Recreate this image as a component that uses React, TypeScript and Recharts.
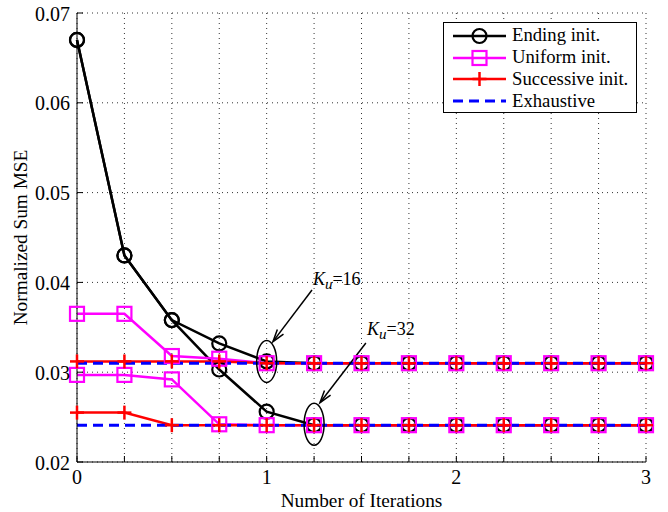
import React from 'react';
import {
  LineChart,
  Line,
  XAxis,
  YAxis,
  CartesianGrid,
  Legend,
  ReferenceDot,
  ReferenceLine,
} from 'recharts';

const FONT = '"Liberation Serif", "Times New Roman", serif';

// x: iteration count, y: normalized sum MSE (upper group Ku=16, lower group Ku=32)
const iterations = [0, 0.25, 0.5, 0.75, 1, 1.25, 1.5, 1.75, 2, 2.25, 2.5, 2.75, 3];
const endingKu16 = [0.067, 0.0430, 0.0358, 0.0332, 0.0312, 0.031, 0.031, 0.031, 0.031, 0.031, 0.031, 0.031, 0.031];
const endingKu32 = [0.067, 0.0430, 0.0358, 0.0303, 0.0256, 0.0241, 0.0241, 0.0241, 0.0241, 0.0241, 0.0241, 0.0241, 0.0241];
const uniformKu16 = [0.0365, 0.0365, 0.0318, 0.0315, 0.031, 0.031, 0.031, 0.031, 0.031, 0.031, 0.031, 0.031, 0.031];
const uniformKu32 = [0.0297, 0.0297, 0.0292, 0.0242, 0.0241, 0.0241, 0.0241, 0.0241, 0.0241, 0.0241, 0.0241, 0.0241, 0.0241];
const successiveKu16 = [0.0312, 0.0312, 0.0312, 0.0312, 0.031, 0.031, 0.031, 0.031, 0.031, 0.031, 0.031, 0.031, 0.031];
const successiveKu32 = [0.0255, 0.0255, 0.0241, 0.0241, 0.0241, 0.0241, 0.0241, 0.0241, 0.0241, 0.0241, 0.0241, 0.0241, 0.0241];
const exhaustiveKu16 = [0.031, 0.031, 0.031, 0.031, 0.031, 0.031, 0.031, 0.031, 0.031, 0.031, 0.031, 0.031, 0.031];
const exhaustiveKu32 = [0.0241, 0.0241, 0.0241, 0.0241, 0.0241, 0.0241, 0.0241, 0.0241, 0.0241, 0.0241, 0.0241, 0.0241, 0.0241];

const xTicks = [0, 0.25, 0.5, 0.75, 1, 1.25, 1.5, 1.75, 2, 2.25, 2.5, 2.75, 3];
const yTicks = [0.02, 0.03, 0.04, 0.05, 0.06, 0.07];

const legendItems = [
  { name: 'Ending init.', color: '#000000', marker: 'circle' },
  { name: 'Uniform init.', color: '#ff00ff', marker: 'square' },
  { name: 'Successive init.', color: '#ff0000', marker: 'plus' },
  { name: 'Exhaustive', color: '#0000ff', marker: 'dash' },
];

// annotation positions in data units
const ellipses = [
  { x: 1, y: 0.0312 },
  { x: 1.25, y: 0.0242 },
];
const arrows = [
  { from: { x: 1.239, y: 0.03915 }, to: { x: 1.033, y: 0.0334 } },
  { from: { x: 1.523, y: 0.03325 }, to: { x: 1.281, y: 0.0266 } },
];
const notes = [
  { x: 1.244, y: 0.0397, text: '=16' },
  { x: 1.529, y: 0.0341, text: '=32' },
];

const data = iterations.map((x, i) => ({
  x,
  endingKu16: endingKu16[i],
  endingKu32: endingKu32[i],
  uniformKu16: uniformKu16[i],
  uniformKu32: uniformKu32[i],
  successiveKu16: successiveKu16[i],
  successiveKu32: successiveKu32[i],
  exhaustiveKu16: exhaustiveKu16[i],
  exhaustiveKu32: exhaustiveKu32[i],
}));

const Marker = ({ kind, cx, cy, color }: any) => {
  if (kind === 'circle')
    return <circle cx={cx} cy={cy} r={7} fill="none" stroke={color} strokeWidth={2.2} />;
  if (kind === 'square')
    return <rect x={cx - 7} y={cy - 7} width={14} height={14} fill="none" stroke={color} strokeWidth={2.2} />;
  if (kind === 'plus')
    return (
      <g stroke={color} strokeWidth={2.5}>
        <line x1={cx - 7} x2={cx + 7} y1={cy} y2={cy} />
        <line x1={cx} x2={cx} y1={cy - 7} y2={cy + 7} />
      </g>
    );
  return null;
};

const dotFor = (kind: string, color: string) => (p: any) =>
  <Marker key={`${kind}-${p.index}`} kind={kind} cx={p.cx} cy={p.cy} color={color} />;

const BottomTick = ({ x, y, payload }: any) => (
  <g>
    <line x1={x} x2={x} y1={y} y2={y - 6} stroke="#000" />
    {Number.isInteger(payload.value) && (
      <text x={x} y={y + 21.5} textAnchor="middle" fontFamily={FONT} fontSize={20} fill="#000">
        {payload.value}
      </text>
    )}
  </g>
);
const TopTick = ({ x, y }: any) => <line x1={x} x2={x} y1={y} y2={y + 6} stroke="#000" />;
const LeftTick = ({ x, y, payload }: any) => (
  <g>
    <line x1={x} x2={x + 6} y1={y} y2={y} stroke="#000" />
    <text x={x - 7} y={y} dy={7.5} textAnchor="end" fontFamily={FONT} fontSize={20} fill="#000">
      {payload.value.toFixed(2)}
    </text>
  </g>
);
const RightTick = ({ x, y }: any) => <line x1={x} x2={x - 6} y1={y} y2={y} stroke="#000" />;

const Arrow = (p: any) => {
  const { x1, y1, x2, y2 } = p;
  const a = Math.atan2(y2 - y1, x2 - x1);
  const h = 13;
  const s = 0.3;
  const pts = `${x2 - h * Math.cos(a - s)},${y2 - h * Math.sin(a - s)} ${x2},${y2} ${x2 - h * Math.cos(a + s)},${y2 - h * Math.sin(a + s)}`;
  return (
    <g>
      <line x1={x1} y1={y1} x2={x2} y2={y2} stroke="#000" strokeWidth={1.5} />
      <polyline points={pts} fill="none" stroke="#000" strokeWidth={1.5} />
    </g>
  );
};

const LegendBox = () => (
  <div
    style={{
      width: 194,
      height: 91,
      border: '1px solid #000',
      boxSizing: 'border-box',
      background: '#fff',
      paddingTop: 2,
      fontFamily: FONT,
      fontSize: 18.7,
      color: '#000',
    }}
  >
    {legendItems.map((item) => (
      <div key={item.name} style={{ display: 'flex', alignItems: 'center', height: 21.7 }}>
        <svg width={53} height={20} style={{ marginLeft: 9, overflow: 'visible', flex: 'none' }}>
          <line
            x1={0}
            x2={53}
            y1={10}
            y2={10}
            stroke={item.color}
            strokeWidth={item.marker === 'dash' ? 3 : 2.5}
            strokeDasharray={item.marker === 'dash' ? '10 6' : undefined}
          />
          <Marker kind={item.marker} cx={26.5} cy={10} color={item.color} />
        </svg>
        <span style={{ marginLeft: 6, lineHeight: 1, whiteSpace: 'nowrap' }}>{item.name}</span>
      </div>
    ))}
  </div>
);

export default function App() {
  return (
    <div style={{ width: 668, height: 512, background: '#fff' }}>
      <style>{'body{margin:0}'}</style>
      <LineChart width={668} height={512} data={data} margin={{ top: 13, right: 22, left: 0, bottom: 0 }}>
        <CartesianGrid stroke="#333" strokeDasharray="1 4" />
        <XAxis
          dataKey="x"
          type="number"
          domain={[0, 3]}
          ticks={xTicks}
          height={50}
          stroke="#000"
          tickLine={false}
          tickSize={0}
          tickMargin={0}
          tick={<BottomTick />}
          interval={0}
          label={{
            value: 'Number of Iterations',
            position: 'insideBottom',
            offset: 5.5,
            style: { fontFamily: FONT, fontSize: 19.3, fill: '#000' },
          }}
        />
        <XAxis
          xAxisId="top"
          orientation="top"
          dataKey="x"
          type="number"
          domain={[0, 3]}
          ticks={xTicks}
          height={0}
          stroke="#000"
          tickLine={false}
          tickSize={0}
          tickMargin={0}
          tick={<TopTick />}
          interval={0}
        />
        <YAxis
          type="number"
          domain={[0.02, 0.07]}
          ticks={yTicks}
          width={77}
          stroke="#000"
          tickLine={false}
          tickSize={0}
          tickMargin={0}
          tick={<LeftTick />}
          interval={0}
          label={{
            value: 'Normalized Sum MSE',
            angle: -90,
            position: 'insideLeft',
            offset: 20,
            style: { textAnchor: 'middle', fontFamily: FONT, fontSize: 19.3, fill: '#000' },
          }}
        />
        <YAxis
          yAxisId="right"
          orientation="right"
          type="number"
          domain={[0.02, 0.07]}
          ticks={yTicks}
          width={0}
          stroke="#000"
          tickLine={false}
          tickSize={0}
          tickMargin={0}
          tick={<RightTick />}
          interval={0}
        />
        <Legend
          layout="horizontal"
          verticalAlign="middle"
          align="center"
          content={<LegendBox />}
          wrapperStyle={{ top: 22, left: 443, width: 194, height: 91 }}
        />
        {(['endingKu16', 'endingKu32'] as const).map((k) => (
          <Line key={k} dataKey={k} stroke="#000" strokeWidth={2.5} dot={dotFor('circle', '#000')} activeDot={false} isAnimationActive={false} legendType="none" />
        ))}
        {(['uniformKu16', 'uniformKu32'] as const).map((k) => (
          <Line key={k} dataKey={k} stroke="#ff00ff" strokeWidth={2.5} dot={dotFor('square', '#ff00ff')} activeDot={false} isAnimationActive={false} legendType="none" />
        ))}
        {(['successiveKu16', 'successiveKu32'] as const).map((k) => (
          <Line key={k} dataKey={k} stroke="#ff0000" strokeWidth={2.5} dot={dotFor('plus', '#ff0000')} activeDot={false} isAnimationActive={false} legendType="none" />
        ))}
        {(['exhaustiveKu16', 'exhaustiveKu32'] as const).map((k) => (
          <Line key={k} dataKey={k} stroke="#0000ff" strokeWidth={3} strokeDasharray="10 6" dot={false} activeDot={false} isAnimationActive={false} legendType="none" />
        ))}
        {ellipses.map((e, i) => (
          <ReferenceDot
            key={`e${i}`}
            x={e.x}
            y={e.y}
            r={0}
            shape={(p: any) => <ellipse cx={p.cx} cy={p.cy} rx={10} ry={21} fill="none" stroke="#000" strokeWidth={1.5} />}
          />
        ))}
        {arrows.map((a, i) => (
          <ReferenceLine key={`a${i}`} segment={[a.from, a.to]} shape={Arrow} />
        ))}
        {notes.map((n, i) => (
          <ReferenceDot
            key={`n${i}`}
            x={n.x}
            y={n.y}
            r={0}
            shape={(p: any) => (
              <text x={p.cx} y={p.cy} fontFamily={FONT} fontSize={18} fill="#000">
                <tspan fontStyle="italic">K</tspan>
                <tspan fontStyle="italic" fontSize={15} dy={4}>u</tspan>
                <tspan dy={-4}>{n.text}</tspan>
              </text>
            )}
          />
        ))}
      </LineChart>
    </div>
  );
}
